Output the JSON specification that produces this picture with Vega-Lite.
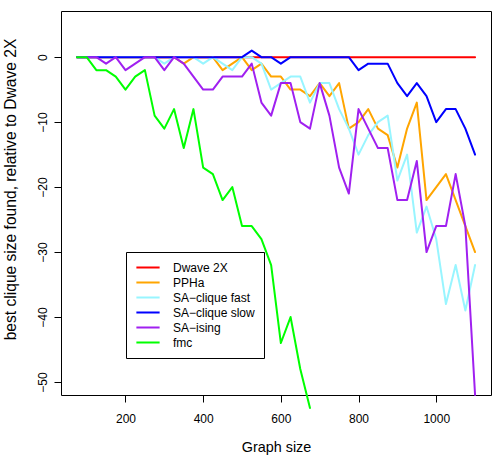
{
  "$schema": "https://vega.github.io/schema/vega-lite/v6.json",
  "width": 430,
  "height": 384,
  "autosize": {"type": "none"},
  "padding": {"left": 61, "top": 11, "right": 8, "bottom": 66},
  "background": "white",
  "config": {
    "view": {"stroke": "black", "strokeWidth": 1},
    "axis": {"domain": false, "grid": false, "tickColor": "black", "tickSize": 7, "labelFont": "Liberation Sans", "titleFont": "Liberation Sans", "labelFontSize": 12, "titleFontSize": 14.4, "titleFontWeight": "normal", "labelColor": "black", "titleColor": "black"},
    "line": {"strokeWidth": 2, "strokeCap": "round", "strokeJoin": "round", "clip": true}
  },
  "data": {"values": [
    {"x":75,"s":"Dwave 2X","y":0},{"x":1100,"s":"Dwave 2X","y":0},
    {"x":75,"s":"PPHa","y":0},{"x":100,"s":"PPHa","y":0},{"x":125,"s":"PPHa","y":0},{"x":150,"s":"PPHa","y":0},{"x":175,"s":"PPHa","y":0},{"x":200,"s":"PPHa","y":0},{"x":225,"s":"PPHa","y":0},{"x":250,"s":"PPHa","y":0},{"x":275,"s":"PPHa","y":0},{"x":300,"s":"PPHa","y":0},{"x":325,"s":"PPHa","y":0},{"x":350,"s":"PPHa","y":-1},{"x":375,"s":"PPHa","y":0},{"x":400,"s":"PPHa","y":0},{"x":425,"s":"PPHa","y":0},{"x":450,"s":"PPHa","y":-2},{"x":475,"s":"PPHa","y":-1},{"x":500,"s":"PPHa","y":0},{"x":525,"s":"PPHa","y":-2},{"x":550,"s":"PPHa","y":-1},{"x":575,"s":"PPHa","y":-3},{"x":600,"s":"PPHa","y":-3},{"x":625,"s":"PPHa","y":-5},{"x":650,"s":"PPHa","y":-5},{"x":675,"s":"PPHa","y":-6},{"x":700,"s":"PPHa","y":-4},{"x":725,"s":"PPHa","y":-6},{"x":750,"s":"PPHa","y":-4},{"x":775,"s":"PPHa","y":-11},{"x":800,"s":"PPHa","y":-10},{"x":825,"s":"PPHa","y":-8},{"x":850,"s":"PPHa","y":-11},{"x":875,"s":"PPHa","y":-12},{"x":900,"s":"PPHa","y":-17},{"x":925,"s":"PPHa","y":-11},{"x":950,"s":"PPHa","y":-7},{"x":975,"s":"PPHa","y":-22},{"x":1000,"s":"PPHa","y":-20},{"x":1025,"s":"PPHa","y":-18},{"x":1050,"s":"PPHa","y":-22},{"x":1075,"s":"PPHa","y":-26},{"x":1100,"s":"PPHa","y":-30},
    {"x":75,"s":"SA−clique fast","y":0},{"x":100,"s":"SA−clique fast","y":0},{"x":125,"s":"SA−clique fast","y":0},{"x":150,"s":"SA−clique fast","y":0},{"x":175,"s":"SA−clique fast","y":0},{"x":200,"s":"SA−clique fast","y":0},{"x":225,"s":"SA−clique fast","y":0},{"x":250,"s":"SA−clique fast","y":0},{"x":275,"s":"SA−clique fast","y":0},{"x":300,"s":"SA−clique fast","y":-1},{"x":325,"s":"SA−clique fast","y":0},{"x":350,"s":"SA−clique fast","y":0},{"x":375,"s":"SA−clique fast","y":0},{"x":400,"s":"SA−clique fast","y":-1},{"x":425,"s":"SA−clique fast","y":0},{"x":450,"s":"SA−clique fast","y":-1},{"x":475,"s":"SA−clique fast","y":-2},{"x":500,"s":"SA−clique fast","y":0},{"x":525,"s":"SA−clique fast","y":0},{"x":550,"s":"SA−clique fast","y":-1},{"x":575,"s":"SA−clique fast","y":-5},{"x":600,"s":"SA−clique fast","y":-4},{"x":625,"s":"SA−clique fast","y":-3},{"x":650,"s":"SA−clique fast","y":-3},{"x":675,"s":"SA−clique fast","y":-7},{"x":700,"s":"SA−clique fast","y":-4},{"x":725,"s":"SA−clique fast","y":-4},{"x":750,"s":"SA−clique fast","y":-8},{"x":775,"s":"SA−clique fast","y":-11},{"x":800,"s":"SA−clique fast","y":-15},{"x":825,"s":"SA−clique fast","y":-12},{"x":850,"s":"SA−clique fast","y":-10},{"x":875,"s":"SA−clique fast","y":-9},{"x":900,"s":"SA−clique fast","y":-19},{"x":925,"s":"SA−clique fast","y":-15},{"x":950,"s":"SA−clique fast","y":-27},{"x":975,"s":"SA−clique fast","y":-23},{"x":1000,"s":"SA−clique fast","y":-28},{"x":1025,"s":"SA−clique fast","y":-38},{"x":1050,"s":"SA−clique fast","y":-32},{"x":1075,"s":"SA−clique fast","y":-39},{"x":1100,"s":"SA−clique fast","y":-32},
    {"x":75,"s":"SA−clique slow","y":0},{"x":100,"s":"SA−clique slow","y":0},{"x":125,"s":"SA−clique slow","y":0},{"x":150,"s":"SA−clique slow","y":0},{"x":175,"s":"SA−clique slow","y":0},{"x":200,"s":"SA−clique slow","y":0},{"x":225,"s":"SA−clique slow","y":0},{"x":250,"s":"SA−clique slow","y":0},{"x":275,"s":"SA−clique slow","y":0},{"x":300,"s":"SA−clique slow","y":0},{"x":325,"s":"SA−clique slow","y":0},{"x":350,"s":"SA−clique slow","y":0},{"x":375,"s":"SA−clique slow","y":0},{"x":400,"s":"SA−clique slow","y":0},{"x":425,"s":"SA−clique slow","y":0},{"x":450,"s":"SA−clique slow","y":0},{"x":475,"s":"SA−clique slow","y":0},{"x":500,"s":"SA−clique slow","y":0},{"x":525,"s":"SA−clique slow","y":1},{"x":550,"s":"SA−clique slow","y":0},{"x":575,"s":"SA−clique slow","y":0},{"x":600,"s":"SA−clique slow","y":-1},{"x":625,"s":"SA−clique slow","y":0},{"x":650,"s":"SA−clique slow","y":0},{"x":675,"s":"SA−clique slow","y":0},{"x":700,"s":"SA−clique slow","y":0},{"x":725,"s":"SA−clique slow","y":0},{"x":750,"s":"SA−clique slow","y":0},{"x":775,"s":"SA−clique slow","y":0},{"x":800,"s":"SA−clique slow","y":-2},{"x":825,"s":"SA−clique slow","y":-1},{"x":850,"s":"SA−clique slow","y":-1},{"x":875,"s":"SA−clique slow","y":-1},{"x":900,"s":"SA−clique slow","y":-4},{"x":925,"s":"SA−clique slow","y":-6},{"x":950,"s":"SA−clique slow","y":-4},{"x":975,"s":"SA−clique slow","y":-6},{"x":1000,"s":"SA−clique slow","y":-10},{"x":1025,"s":"SA−clique slow","y":-8},{"x":1050,"s":"SA−clique slow","y":-8},{"x":1075,"s":"SA−clique slow","y":-11},{"x":1100,"s":"SA−clique slow","y":-15},
    {"x":75,"s":"SA−ising","y":0},{"x":100,"s":"SA−ising","y":0},{"x":125,"s":"SA−ising","y":0},{"x":150,"s":"SA−ising","y":-1},{"x":175,"s":"SA−ising","y":0},{"x":200,"s":"SA−ising","y":-2},{"x":225,"s":"SA−ising","y":-1},{"x":250,"s":"SA−ising","y":0},{"x":275,"s":"SA−ising","y":0},{"x":300,"s":"SA−ising","y":-2},{"x":325,"s":"SA−ising","y":0},{"x":350,"s":"SA−ising","y":-1},{"x":375,"s":"SA−ising","y":-3},{"x":400,"s":"SA−ising","y":-5},{"x":425,"s":"SA−ising","y":-5},{"x":450,"s":"SA−ising","y":-3},{"x":475,"s":"SA−ising","y":-3},{"x":500,"s":"SA−ising","y":-3},{"x":525,"s":"SA−ising","y":-1},{"x":550,"s":"SA−ising","y":-7},{"x":575,"s":"SA−ising","y":-9},{"x":600,"s":"SA−ising","y":-4},{"x":625,"s":"SA−ising","y":-4},{"x":650,"s":"SA−ising","y":-10},{"x":675,"s":"SA−ising","y":-11},{"x":700,"s":"SA−ising","y":-4},{"x":725,"s":"SA−ising","y":-9},{"x":750,"s":"SA−ising","y":-17},{"x":775,"s":"SA−ising","y":-21},{"x":800,"s":"SA−ising","y":-8},{"x":825,"s":"SA−ising","y":-11},{"x":850,"s":"SA−ising","y":-14},{"x":875,"s":"SA−ising","y":-14},{"x":900,"s":"SA−ising","y":-22},{"x":925,"s":"SA−ising","y":-22},{"x":950,"s":"SA−ising","y":-16},{"x":975,"s":"SA−ising","y":-30},{"x":1000,"s":"SA−ising","y":-26},{"x":1025,"s":"SA−ising","y":-26},{"x":1050,"s":"SA−ising","y":-18},{"x":1075,"s":"SA−ising","y":-26},{"x":1100,"s":"SA−ising","y":-52},
    {"x":75,"s":"fmc","y":0},{"x":100,"s":"fmc","y":0},{"x":125,"s":"fmc","y":-2},{"x":150,"s":"fmc","y":-2},{"x":175,"s":"fmc","y":-3},{"x":200,"s":"fmc","y":-5},{"x":225,"s":"fmc","y":-3},{"x":250,"s":"fmc","y":-2},{"x":275,"s":"fmc","y":-9},{"x":300,"s":"fmc","y":-11},{"x":325,"s":"fmc","y":-8},{"x":350,"s":"fmc","y":-14},{"x":375,"s":"fmc","y":-8},{"x":400,"s":"fmc","y":-17},{"x":425,"s":"fmc","y":-18},{"x":450,"s":"fmc","y":-22},{"x":475,"s":"fmc","y":-20},{"x":500,"s":"fmc","y":-26},{"x":525,"s":"fmc","y":-26},{"x":550,"s":"fmc","y":-28},{"x":575,"s":"fmc","y":-32},{"x":600,"s":"fmc","y":-44},{"x":625,"s":"fmc","y":-40},{"x":650,"s":"fmc","y":-48},{"x":675,"s":"fmc","y":-54}
  ]},
  "encoding": {
    "x": {"field": "x", "type": "quantitative", "scale": {"domain": [34, 1141], "nice": false, "zero": false},
      "axis": {"values": [200, 400, 600, 800, 1000], "format": "d", "title": "Graph size", "labelPadding": 20.7, "labelBaseline": "alphabetic", "titleY": 56, "titleBaseline": "alphabetic"}},
    "y": {"field": "y", "type": "quantitative", "scale": {"domain": [-52, 7.1], "nice": false, "zero": false},
      "axis": {"values": [-50, -40, -30, -20, -10, 0], "title": "best clique size found, relative to Dwave 2X", "titleFontSize": 15.6, "labelAngle": 270, "labelAlign": "center", "labelBaseline": "alphabetic", "labelPadding": 7.6, "titleX": -45.5, "titleY": 178, "titleAngle": 270, "titleAlign": "center", "titleBaseline": "alphabetic"}},
    "color": {"field": "s", "type": "nominal",
      "scale": {"domain": ["Dwave 2X", "PPHa", "SA−clique fast", "SA−clique slow", "SA−ising", "fmc"], "range": ["#FF0000", "#FFA500", "#98F5FF", "#0000FF", "#A020F0", "#00FF00"]},
      "legend": {"title": null, "orient": "none", "legendX": 65, "legendY": 241, "padding": 9, "strokeColor": "black", "fillColor": "white", "symbolType": "stroke", "symbolSize": 540, "symbolStrokeWidth": 2, "clipHeight": 13, "rowPadding": 2, "labelOffset": 12, "labelFontSize": 12, "labelFont": "Liberation Sans", "labelColor": "black"}}
  },
  "layer": [
    {"transform": [{"filter": {"field": "s", "equal": "Dwave 2X"}}], "mark": {"type": "line"}},
    {"transform": [{"filter": {"field": "s", "equal": "PPHa"}}], "mark": {"type": "line"}},
    {"transform": [{"filter": {"field": "s", "equal": "SA−clique fast"}}], "mark": {"type": "line"}},
    {"transform": [{"filter": {"field": "s", "equal": "SA−clique slow"}}], "mark": {"type": "line"}},
    {"transform": [{"filter": {"field": "s", "equal": "SA−ising"}}], "mark": {"type": "line"}},
    {"transform": [{"filter": {"field": "s", "equal": "fmc"}}], "mark": {"type": "line"}}
  ]
}
